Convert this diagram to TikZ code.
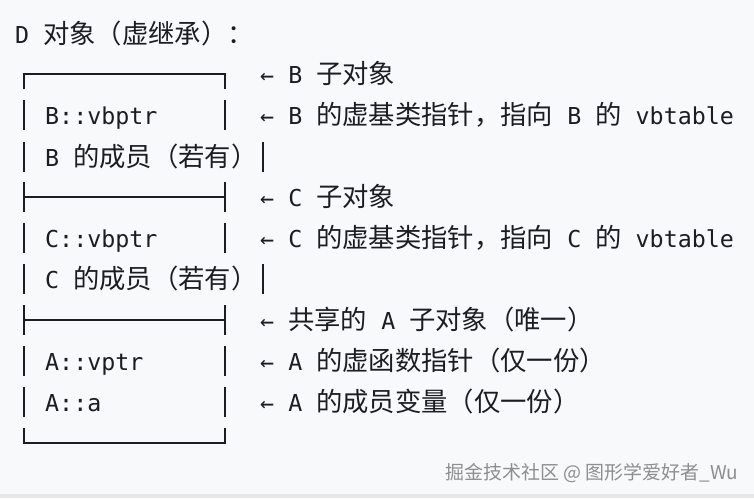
\documentclass[tikz,border=0pt]{standalone}
\usepackage{fontspec}
\usepackage{xcolor}
\setmonofont{DejaVu Sans Mono}
\newfontfamily\cjk[Scale=1.13]{Noto Sans CJK SC}
\newfontfamily\wmfont{Noto Sans CJK SC}
\newcommand{\zh}[1]{{\cjk #1}}
\definecolor{bgcol}{HTML}{F8F9FB}
\definecolor{stripcol}{HTML}{E6E7E9}
\definecolor{inkcol}{HTML}{1A1D21}
\definecolor{wmcol}{HTML}{8E8E8E}

\begin{document}
\begin{tikzpicture}[x=1pt,y=-1pt,
  txt/.style={anchor=base west,inner sep=0pt,text=inkcol,font=\fontsize{23.3}{28}\selectfont\ttfamily},
  bar/.style={draw=inkcol,line width=1.7pt}]
\fill[bgcol] (0,0) rectangle (754,498);
\fill[stripcol] (0,494) rectangle (754,498);
\useasboundingbox (0,0) rectangle (754,498);
% title
\node[txt] (title) at (15,43) {D \zh{对象（虚继承）：}};
% box outline, one piece per text row
\draw[bar] (24,89) -- (24,74) -- (225,74) -- (225,89);
\foreach \yy in {115,238,361,402} {
  \draw[bar] (24,\yy-15) -- (24,\yy+15) (225,\yy-15) -- (225,\yy+15);
}
\foreach \yy in {157,279} {
  \draw[bar] (24,\yy-15) -- (24,\yy+15) (263,\yy-15) -- (263,\yy+15);
}
\foreach \yy in {197,320} {
  \draw[bar] (24,\yy-15) -- (24,\yy+15) (225,\yy-15) -- (225,\yy+15) (24,\yy) -- (225,\yy);
}
\draw[bar] (24,428) -- (24,443) -- (225,443) -- (225,428);
% fields inside the box
\node[txt] (bvbptr) at (45,124) {B::vbptr};
\node[txt] (bmem) at (45,166) {B \zh{的成员（若有）}};
\node[txt] (cvbptr) at (45,247) {C::vbptr};
\node[txt] (cmem) at (45,288) {C \zh{的成员（若有）}};
\node[txt] (avptr) at (45,370) {A::vptr};
\node[txt] (aval) at (45,411) {A::a};
% notes on the right
\node[txt] (nb) at (260,83) {← B \zh{子对象}};
\node[txt] (nbvb) at (260,124) {← B \zh{的虚基类指针，指向} B \zh{的} vbtable};
\node[txt] (nc) at (260,206) {← C \zh{子对象}};
\node[txt] (ncvb) at (260,247) {← C \zh{的虚基类指针，指向} C \zh{的} vbtable};
\node[txt] (na) at (260,329) {← \zh{共享的} A \zh{子对象（唯一）}};
\node[txt] (navptr) at (260,370) {← A \zh{的虚函数指针（仅一份）}};
\node[txt] (naval) at (260,411) {← A \zh{的成员变量（仅一份）}};
% watermark
\node[anchor=base west,inner sep=0pt,text=wmcol,font=\fontsize{19}{23}\wmfont] (mark) at (445,479) {掘金技术社区 @ 图形学爱好者\_Wu};
\end{tikzpicture}
\end{document}
